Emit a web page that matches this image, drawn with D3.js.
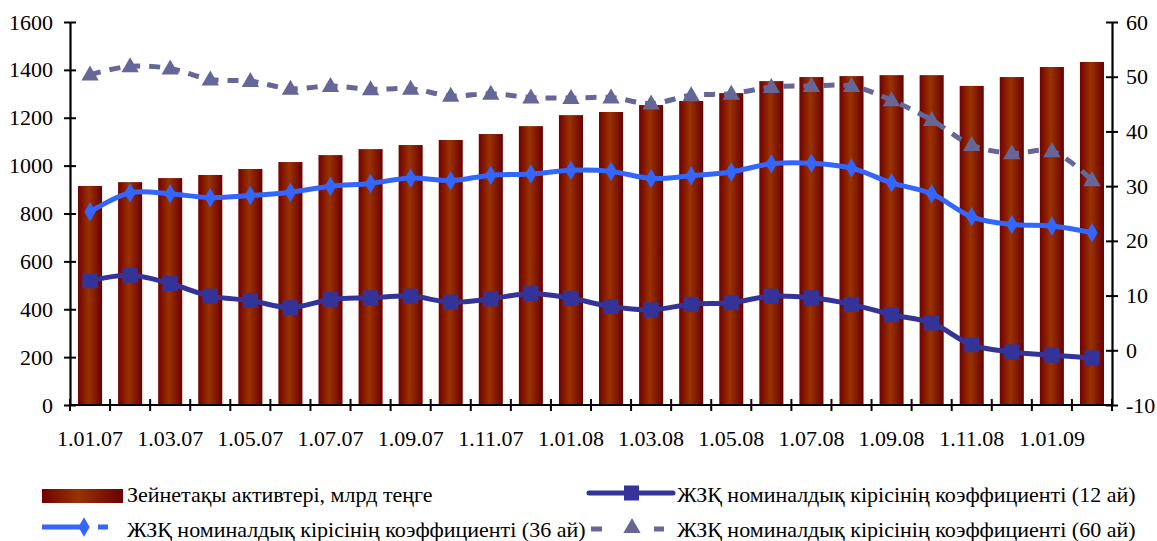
<!DOCTYPE html>
<html>
<head>
    <meta charset="utf-8" />
    <title>Зейнетақы активтері</title>
    <style>
        body { margin: 0; background: #fff; }
        svg text { font-family: "Liberation Serif", "Times New Roman", serif; fill: #000; }
    </style>
</head>
<body>
    <div id="chart"></div>
    <script src="https://cdn.jsdelivr.net/npm/d3@7"></script>
    <script>
        // ---------- data ----------
        var months = ["1.01.07", "1.02.07", "1.03.07", "1.04.07", "1.05.07", "1.06.07", "1.07.07", "1.08.07",
            "1.09.07", "1.10.07", "1.11.07", "1.12.07", "1.01.08", "1.02.08", "1.03.08", "1.04.08",
            "1.05.08", "1.06.08", "1.07.08", "1.08.08", "1.09.08", "1.10.08", "1.11.08", "1.12.08",
            "1.01.09", "1.02.09"];
        // pension assets, bn tenge (left axis)
        var assets = [915, 931, 948, 961, 986, 1015, 1044, 1069, 1086, 1107, 1132, 1165, 1211,
            1224, 1253, 1270, 1303, 1353, 1370, 1374, 1378, 1378, 1333, 1370, 1412, 1433];
        // nominal return coefficients (right axis)
        var ret12 = [12.7, 13.7, 12.2, 9.9, 9.1, 7.8, 9.3, 9.6, 9.9, 8.8, 9.4, 10.4, 9.5,
            8.0, 7.4, 8.4, 8.7, 9.9, 9.6, 8.4, 6.5, 5.0, 1.0, -0.3, -0.9, -1.4];
        var ret36 = [25.3, 28.8, 28.6, 27.9, 28.3, 28.9, 30.0, 30.5, 31.5, 31.0, 32.0, 32.2, 32.9,
            32.7, 31.4, 31.9, 32.6, 34.1, 34.2, 33.3, 30.6, 28.6, 24.4, 23.0, 22.7, 21.5];
        var ret60 = [50.4, 51.9, 51.5, 49.5, 49.2, 47.8, 48.3, 47.7, 47.8, 46.5, 46.9, 46.2, 46.1,
            46.2, 45.1, 46.6, 46.9, 48.1, 48.3, 48.3, 45.7, 42.1, 37.5, 36.0, 36.4, 31.1];
        var leftTicks = [0, 200, 400, 600, 800, 1000, 1200, 1400, 1600];
        var rightTicks = [-10, 0, 10, 20, 30, 40, 50, 60];
        var legendNames = ["Зейнетақы активтері, млрд теңге",
            "ЖЗҚ номиналдық кірісінің коэффициенті (12 ай)",
            "ЖЗҚ номиналдық кірісінің коэффициенті (36 ай)",
            "ЖЗҚ номиналдық кірісінің коэффициенті (60 ай)"];

        var W = 1157, H = 541;
        var plot = { left: 70, right: 1112, top: 22, bottom: 405 };

        var svg = d3.select("#chart").append("svg")
            .attr("width", W).attr("height", H);

        // bar gradient
        var defs = svg.append("defs");
        var grad = defs.append("linearGradient").attr("id", "barGrad")
            .attr("x1", "0%").attr("x2", "100%").attr("y1", "0%").attr("y2", "0%");
        grad.append("stop").attr("offset", "0%").attr("stop-color", "#730000");
        grad.append("stop").attr("offset", "45%").attr("stop-color", "#993300");
        grad.append("stop").attr("offset", "100%").attr("stop-color", "#6a0000");

        var x = d3.scaleBand().domain(months).range([plot.left, plot.right]).paddingInner(0.4).paddingOuter(0.2);
        var xc = function (d) { return x(d) + x.bandwidth() / 2; };
        var yL = d3.scaleLinear().domain([0, 1600]).range([plot.bottom, plot.top]);
        var yR = d3.scaleLinear().domain([-10, 60]).range([plot.bottom, plot.top]);

        // bars
        svg.append("g").selectAll("rect")
            .data(assets)
            .join("rect")
            .attr("x", function (d, i) { return x(months[i]); })
            .attr("width", x.bandwidth())
            .attr("y", function (d) { return yL(d); })
            .attr("height", function (d) { return yL(0) - yL(d); })
            .attr("fill", "url(#barGrad)");

        // axes
        var leftAxis = svg.append("g")
            .attr("transform", "translate(" + plot.left + ",0)")
            .call(d3.axisLeft(yL).tickValues(leftTicks).tickFormat(d3.format("d")).tickSize(0).tickPadding(17));
        var rightAxis = svg.append("g")
            .attr("transform", "translate(" + plot.right + ",0)")
            .call(d3.axisRight(yR).tickValues(rightTicks).tickFormat(d3.format("d")).tickSize(0).tickPadding(14));
        [leftAxis, rightAxis].forEach(function (g) {
            g.attr("font-family", null);
            g.select(".domain").attr("stroke", "#000").attr("stroke-width", 2.2);
            g.selectAll(".tick line").remove();
            g.selectAll(".tick").append("line")
                .attr("x1", -6).attr("x2", 6).attr("stroke", "#000").attr("stroke-width", 2);
            g.selectAll(".tick text")
                .style("font-size", "22px")
                .style("font-family", "'Liberation Serif', serif");
        });
        rightAxis.selectAll(".tick text").text(function (d) { return d < 0 ? "-" + Math.abs(d) : d; });

        // bottom axis: ticks at band edges, labels on every 2nd category
        var step = x.step();
        var xb = svg.append("g").attr("transform", "translate(0," + plot.bottom + ")");
        xb.append("line").attr("x1", plot.left).attr("x2", plot.right)
            .attr("stroke", "#000").attr("stroke-width", 2.2);
        xb.selectAll(".tk")
            .data(d3.range(months.length + 1))
            .join("line")
            .attr("x1", function (i) { return plot.left + i * step; })
            .attr("x2", function (i) { return plot.left + i * step; })
            .attr("y1", -6).attr("y2", 6)
            .attr("stroke", "#000").attr("stroke-width", 2);
        xb.selectAll(".lbl")
            .data(months.filter(function (d, i) { return i % 2 === 0; }))
            .join("text")
            .attr("x", xc)
            .attr("y", 41)
            .attr("text-anchor", "middle")
            .style("font-size", "22px")
            .text(function (d) { return d; });

        // lines
        var curve = d3.curveCatmullRom.alpha(0.5);
        function lineOf(vals) {
            return d3.line()
                .x(function (d, i) { return xc(months[i]); })
                .y(function (d) { return yR(d); })
                .curve(curve)(vals);
        }

        var col12 = "#333399", col36 = "#3366ff", col60 = "#666699";

        svg.append("path").attr("d", lineOf(ret60))
            .attr("fill", "none").attr("stroke", col60).attr("stroke-width", 5)
            .attr("stroke-dasharray", "11,9");
        svg.append("path").attr("d", lineOf(ret36))
            .attr("fill", "none").attr("stroke", col36).attr("stroke-width", 5);
        svg.append("path").attr("d", lineOf(ret12))
            .attr("fill", "none").attr("stroke", col12).attr("stroke-width", 5);

        var tri = d3.symbol().type(d3.symbolTriangle).size(130);
        var dia = d3.symbol().type(d3.symbolDiamond).size(110);

        svg.append("g").selectAll("path")
            .data(ret60).join("path")
            .attr("d", tri)
            .attr("transform", function (d, i) { return "translate(" + xc(months[i]) + "," + (yR(d) + 1) + ")"; })
            .attr("fill", col60);
        svg.append("g").selectAll("path")
            .data(ret36).join("path")
            .attr("d", dia)
            .attr("transform", function (d, i) { return "translate(" + xc(months[i]) + "," + yR(d) + ")"; })
            .attr("fill", col36);
        svg.append("g").selectAll("rect")
            .data(ret12).join("rect")
            .attr("x", function (d, i) { return xc(months[i]) - 7.5; })
            .attr("y", function (d) { return yR(d) - 7.5; })
            .attr("width", 15).attr("height", 15)
            .attr("fill", col12);

        // legend
        var lg = svg.append("g").style("font-size", "22px");
        var r1 = 495, r2 = 530;
        lg.append("rect").attr("x", 42).attr("y", r1 - 6).attr("width", 81).attr("height", 14)
            .attr("fill", "url(#barGrad)");
        lg.append("text").attr("x", 127).attr("y", r1 + 7).text(legendNames[0]);

        lg.append("line").attr("x1", 589).attr("x2", 673).attr("y1", r1 - 2).attr("y2", r1 - 2)
            .attr("stroke", col12).attr("stroke-width", 5).attr("stroke-linecap", "round");
        lg.append("rect").attr("x", 624).attr("y", r1 - 9.5).attr("width", 15).attr("height", 15).attr("fill", col12);
        lg.append("text").attr("x", 677).attr("y", r1 + 7).text(legendNames[1]);

        lg.append("line").attr("x1", 42).attr("x2", 84).attr("y1", r2 - 3).attr("y2", r2 - 3)
            .attr("stroke", col36).attr("stroke-width", 5);
        lg.append("line").attr("x1", 98).attr("x2", 108).attr("y1", r2 - 3).attr("y2", r2 - 3)
            .attr("stroke", col36).attr("stroke-width", 5);
        lg.append("path").attr("d", dia).attr("transform", "translate(84," + (r2 - 3) + ")").attr("fill", col36);
        lg.append("text").attr("x", 127).attr("y", r2 + 7).text(legendNames[2]);

        lg.append("line").attr("x1", 591).attr("x2", 602).attr("y1", r2 - 1).attr("y2", r2 - 1)
            .attr("stroke", col60).attr("stroke-width", 5);
        lg.append("line").attr("x1", 654).attr("x2", 664).attr("y1", r2 - 1).attr("y2", r2 - 1)
            .attr("stroke", col60).attr("stroke-width", 5);
        lg.append("path").attr("d", tri).attr("transform", "translate(632," + (r2 - 2) + ")").attr("fill", col60);
        lg.append("text").attr("x", 677).attr("y", r2 + 7).text(legendNames[3]);
    </script>
</body>
</html>
